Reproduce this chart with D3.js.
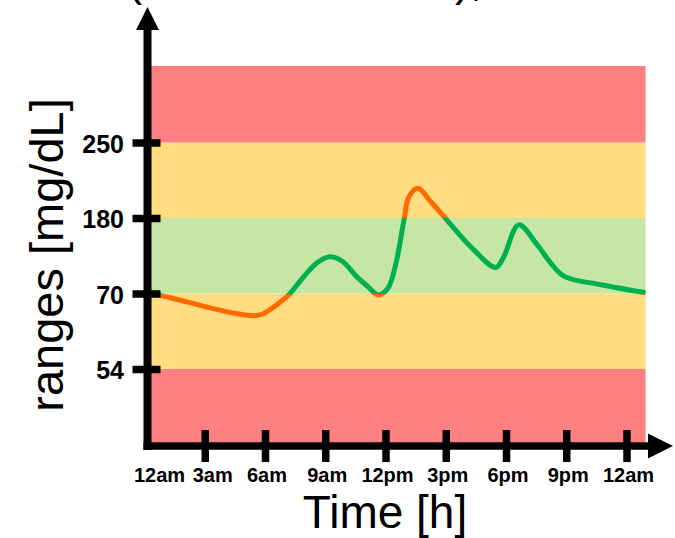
<!DOCTYPE html>
<html>
<head>
<meta charset="utf-8">
<script src="https://cdn.jsdelivr.net/npm/d3@7"></script>
<style>
  body { margin: 0; background: #fff; }
  svg { display: block; font-family: "Liberation Sans", Arial, sans-serif; }
</style>
</head>
<body>
<div id="chart-container"></div>
<script>
// glucose trace, hours since midnight and mg/dL
const hours = [0, 1.39, 3.03, 4.37, 5.37, 5.86, 6.36, 7.0, 7.25, 8.0, 8.65, 9.24, 9.85, 10.55, 11.13, 11.63,
    12.12, 12.52, 12.92, 13.17, 13.61, 14.26, 15.06, 16.25, 17.49, 17.89, 18.63, 19.55, 20.24, 20.9, 22.81, 24.95];
const glucose = [72, 69, 67.2, 65.9, 65.3, 65.6, 66.9, 69, 70, 97, 116, 123.6, 117, 95, 80, 69.7,
    77.6, 114, 177, 199.7, 207.5, 195, 177, 138, 108, 123.6, 170, 141, 114, 95, 82.4, 71];

// range bands (bottom to top)
const bandLow = [40, 54, 70, 180, 250];
const bandHigh = [54, 70, 180, 250, 300];
const bandColors = ['#ff8080', '#ffdd80', '#c6e6a6', '#ffdd80', '#ff8080'];

const yTicks = [54, 70, 180, 250];
const xTicks = [0, 3, 6, 9, 12, 15, 18, 21, 24];
const xTickLabels = ['12am', '3am', '6am', '9am', '12pm', '3pm', '6pm', '9pm', '12am'];

const svgWidth = 675;
const svgHeight = 538;

const svg = d3.select('#chart-container')
    .append('svg')
    .attr('width', svgWidth)
    .attr('height', svgHeight);

const xScale = d3.scaleLinear()
    .domain([0, 24])
    .range([144.5, 626.5]);

// equal-height bands, so piecewise
const yScale = d3.scaleLinear()
    .domain([40, 54, 70, 180, 250, 300])
    .range([446, 369, 293.5, 218, 142.5, 66]);

const xAxisY = 446;
const yAxisX = 147.5;

// bands
svg.selectAll('rect.band')
    .data(bandLow)
    .enter()
    .append('rect')
    .attr('class', 'band')
    .attr('x', xScale(0))
    .attr('width', xScale(24.95) - xScale(0))
    .attr('y', (d, i) => yScale(bandHigh[i]))
    .attr('height', (d, i) => yScale(d) - yScale(bandHigh[i]))
    .attr('fill', (d, i) => bandColors[i]);

// line coloured by range: orange outside 70-180
const grad = svg.append('defs').append('linearGradient')
    .attr('id', 'lineGrad')
    .attr('gradientUnits', 'userSpaceOnUse')
    .attr('x1', 0).attr('x2', 0)
    .attr('y1', 0).attr('y2', svgHeight);
const o1 = yScale(180) / svgHeight;
const o2 = yScale(70) / svgHeight;
[[0, '#ff6a00'], [o1, '#ff6a00'], [o1, '#00b050'], [o2, '#00b050'], [o2, '#ff6a00'], [1, '#ff6a00']]
    .forEach(s => grad.append('stop').attr('offset', s[0]).attr('stop-color', s[1]));

const line = d3.line()
    .x((d, i) => xScale(hours[i]))
    .y(d => yScale(d))
    .curve(d3.curveCatmullRom.alpha(0.5));

svg.append('path')
    .datum(glucose)
    .attr('d', line)
    .attr('fill', 'none')
    .attr('stroke', 'url(#lineGrad)')
    .attr('stroke-width', 5)
    .attr('stroke-linejoin', 'round');

// x axis (ticks from d3, labels drawn separately)
const xAxis = d3.axisBottom(xScale)
    .tickValues(xTicks)
    .tickFormat('')
    .tickSizeOuter(0);

const gx = svg.append('g')
    .attr('transform', `translate(0, ${xAxisY})`)
    .call(xAxis);
gx.select('.domain').remove();
gx.selectAll('.tick line')
    .attr('y1', -16).attr('y2', 16)
    .attr('stroke', '#000')
    .attr('stroke-width', 7.5)
    .attr('display', d => d === 0 ? 'none' : null);

// first two labels sit a bit to the right of their ticks
svg.selectAll('text.xlab')
    .data(xTicks)
    .enter()
    .append('text')
    .attr('class', 'xlab')
    .attr('x', (d, i) => xScale(d) + (i === 0 ? 15 : i === 1 ? 8 : 2))
    .attr('y', 482)
    .attr('text-anchor', 'middle')
    .attr('font-size', 20)
    .attr('font-weight', 'bold')
    .attr('fill', '#000')
    .text((d, i) => xTickLabels[i]);

svg.append('line')
    .attr('x1', yAxisX - 4).attr('x2', 650)
    .attr('y1', xAxisY).attr('y2', xAxisY)
    .attr('stroke', '#000')
    .attr('stroke-width', 7.5);
svg.append('path')
    .attr('d', `M648,${xAxisY - 12.5}L673,${xAxisY}L648,${xAxisY + 12.5}Z`)
    .attr('fill', '#000');

// y axis
const yAxis = d3.axisLeft(yScale)
    .tickValues(yTicks)
    .tickFormat('')
    .tickSizeOuter(0);

const gy = svg.append('g')
    .attr('transform', `translate(${yAxisX}, 0)`)
    .call(yAxis);
gy.select('.domain').remove();
gy.selectAll('.tick line')
    .attr('x1', -15).attr('x2', 13)
    .attr('stroke', '#000')
    .attr('stroke-width', 7.5);

svg.selectAll('text.ylab')
    .data(yTicks)
    .enter()
    .append('text')
    .attr('class', 'ylab')
    .attr('x', 124)
    .attr('y', d => yScale(d) + 10)
    .attr('text-anchor', 'end')
    .attr('font-size', 25)
    .attr('font-weight', 'bold')
    .attr('fill', '#000')
    .text(d => d);

svg.append('line')
    .attr('x1', yAxisX).attr('x2', yAxisX)
    .attr('y1', xAxisY + 4).attr('y2', 28)
    .attr('stroke', '#000')
    .attr('stroke-width', 8);
svg.append('path')
    .attr('d', `M${yAxisX - 11.5},30L${yAxisX},7L${yAxisX + 11.5},30Z`)
    .attr('fill', '#000');

// axis titles
svg.append('text')
    .attr('x', 385)
    .attr('y', 528)
    .attr('text-anchor', 'middle')
    .attr('font-size', 46)
    .text('Time [h]');

svg.append('text')
    .attr('transform', 'translate(63, 255) rotate(-90)')
    .attr('text-anchor', 'middle')
    .attr('font-size', 47)
    .text('ranges [mg/dL]');

// title above is cut off by the frame, only its lower edge shows
svg.append('text')
    .attr('x', 127)
    .attr('y', -5)
    .attr('font-size', 46)
    .text('(');
svg.append('text')
    .attr('x', 455)
    .attr('y', -5)
    .attr('font-size', 46)
    .text('),');
</script>
</body>
</html>
